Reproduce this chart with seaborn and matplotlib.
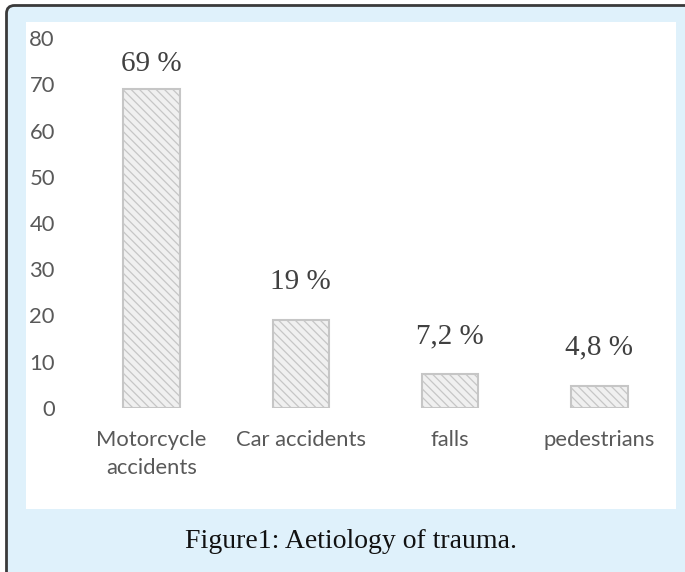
import matplotlib
matplotlib.use("Agg")
import matplotlib.pyplot as plt
import seaborn as sns
import pandas as pd
from matplotlib.patches import FancyBboxPatch, Rectangle

categories = ["Motorcycle\naccidents", "Car accidents", "falls", "pedestrians"]
values = [69, 19, 7.2, 4.8]
value_labels = ["69 %", "19 %", "7,2 %", "4,8 %"]
yticks = [0, 10, 20, 30, 40, 50, 60, 70, 80]

sns.set_style("white")
plt.rcParams['font.family'] = ['Lato', 'DejaVu Sans']
plt.rcParams['hatch.linewidth'] = 0.9

df = pd.DataFrame({"cat": categories, "val": values})

fig = plt.figure(figsize=(6.85, 5.72), dpi=100, facecolor="white")

frame = FancyBboxPatch((0.065, -0.5), 7.5, 5.665 + 0.5,
                       boxstyle="round,pad=0,rounding_size=0.08",
                       transform=fig.dpi_scale_trans, facecolor="#dff1fb",
                       edgecolor="#3a3a3a", linewidth=2, zorder=-2)
fig.patches.append(frame)
inner = Rectangle((0.26, 0.63), 6.50, 4.87, transform=fig.dpi_scale_trans,
                  facecolor="white", edgecolor="none", zorder=-1)
fig.patches.append(inner)

ax = fig.add_axes([0.1124, 0.2872, 0.8715, 0.646])
ax.set_zorder(1)
ax.set_facecolor("none")
sns.barplot(data=df, x="cat", y="val", ax=ax, color="#f0f0f0", width=0.38,
            edgecolor="#c6c6c6", linewidth=1.5)
for p in ax.patches:
    p.set_hatch("\\\\\\\\")

ax.set_ylim(0, 80)
ax.set_xlim(-0.5, len(categories) - 0.5)
ax.set_yticks(yticks)
ax.set_xlabel("")
ax.set_ylabel("")
for s in ax.spines.values():
    s.set_visible(False)
ax.tick_params(axis="both", length=0, labelsize=15.8, colors="#595959")
ax.tick_params(axis="y", pad=16)
ax.tick_params(axis="x", pad=16)
for lbl in ax.get_xticklabels():
    lbl.set_linespacing(1.5)

for i, (v, t) in enumerate(zip(values, value_labels)):
    ax.text(i, min(v + 8.3, 74.4), t, ha="center", va="center",
            fontsize=21, color="#404040", family="Liberation Serif")

fig.text(0.512, 0.042, "Figure1: Aetiology of trauma.", ha="center",
         va="baseline", fontsize=20, color="#111111", family="Liberation Serif")

fig.savefig("out.png", dpi=100, facecolor=fig.get_facecolor())
